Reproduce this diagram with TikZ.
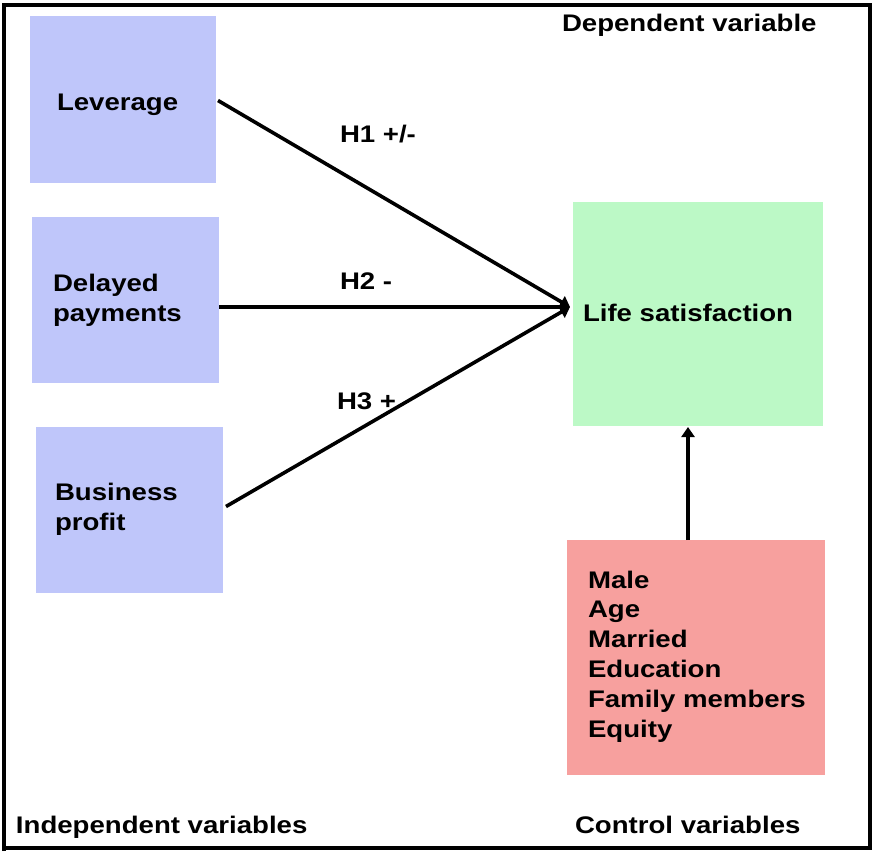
\documentclass[tikz,border=0pt]{standalone}
\usepackage{fontspec}
\setmainfont{Liberation Sans}[FakeStretch=1.15]
\usetikzlibrary{arrows.meta}
\definecolor{indblue}{HTML}{BFC6FA}
\definecolor{depgreen}{HTML}{BCF9C6}
\definecolor{ctlred}{HTML}{F7A09E}
\tikzset{
  box/.style={draw=none,inner sep=0pt,outer sep=0pt,anchor=north west},
  lbl/.style={inner sep=0pt,outer sep=0pt,anchor=base west,font=\fontsize{24}{29.8}\selectfont\bfseries,align=left},
  conn/.style={line width=3.6pt,-{Triangle[length=10pt,width=13pt]}},
}
\begin{document}
\begin{tikzpicture}[x=1pt,y=-1pt]
\useasboundingbox (0,0) rectangle (874,851);
% frame
\draw[line width=3.6pt] (4,851) -- (4,5) -- (870,5) -- (870,848) -- (4,848);
% boxes
\node[box,fill=indblue,minimum width=186pt,minimum height=166pt] (lev) at (30,16.5) {};
\node[box,fill=indblue,minimum width=187pt,minimum height=166pt] (del) at (32,217) {};
\node[box,fill=indblue,minimum width=187pt,minimum height=166pt] (bus) at (36,427) {};
\node[box,fill=depgreen,minimum width=250pt,minimum height=224pt] (life) at (573,202) {};
\node[box,fill=ctlred,minimum width=258pt,minimum height=235pt] (ctl) at (567,540) {};
% texts (anchor base = baseline of last line)
\node[lbl] (tlev) at (57,110) {Leverage};
\node[lbl] (tdel) at (53,321) {Delayed\\payments};
\node[lbl] (tbus) at (55,530) {Business\\profit};
\node[lbl] (tlife) at (583,321) {Life satisfaction};
\node[lbl] (tctl) at (588,737) {Male\\Age\\Married\\Education\\Family members\\Equity};
\node[lbl] (tdep) at (562,32) {Dependent variable};
\node[lbl] (tind) at (16,833) {Independent variables};
\node[lbl] (tcon) at (575,833) {Control variables};
\node[lbl] (h1) at (340,142) {H1 +/-};
\node[lbl] (h2) at (340,289) {H2 -};
\node[lbl] (h3) at (337,409) {H3 +};
% connectors
\coordinate (hub) at (570,307);
\coordinate (hubc) at (688,427);
\draw[conn] ([xshift=2pt,yshift=-1pt]lev.east) -- (hub);
\draw[conn] (del.east |- hub) -- (hub);
\draw[conn] ([xshift=3pt,yshift=3.5pt]bus.east) -- (hub);
\draw[conn] (ctl.north -| hubc) -- (hubc);
\end{tikzpicture}
\end{document}
